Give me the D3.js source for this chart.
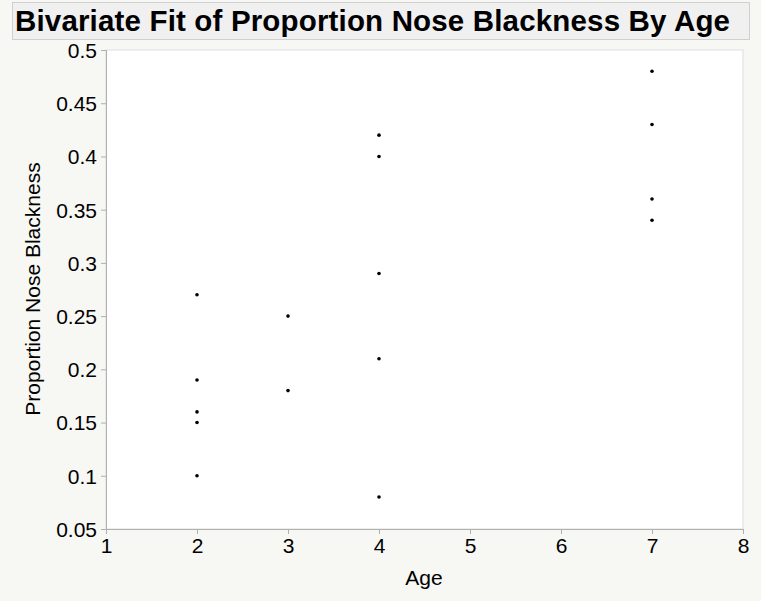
<!DOCTYPE html>
<html><head><meta charset="utf-8">
<script src="https://cdn.jsdelivr.net/npm/d3@7"></script>
<style>body{margin:0;background:#f7f7f3;}</style>
</head><body>
<script>
// values
const ages = [2, 2, 2, 2, 2, 3, 3, 4, 4, 4, 4, 4, 7, 7, 7, 7];
const blackness = [0.27, 0.19, 0.16, 0.15, 0.10, 0.25, 0.18, 0.42, 0.40, 0.29, 0.21, 0.08, 0.48, 0.43, 0.36, 0.34];
const xTicks = [1, 2, 3, 4, 5, 6, 7, 8];
const yTicks = [0.05, 0.1, 0.15, 0.2, 0.25, 0.3, 0.35, 0.4, 0.45, 0.5];

const svg = d3.select("body").append("svg").attr("width", 761).attr("height", 601)
  .style("font-family", "'Liberation Sans', Arial, sans-serif");

svg.append("rect").attr("x", 12.5).attr("y", 2.5).attr("width", 737).attr("height", 37)
  .attr("fill", "#f0f0f0").attr("stroke", "#d0d0d0");
svg.append("text").attr("x", 15).attr("y", 31).attr("font-size", 29.5).attr("font-weight", "bold")
  .attr("textLength", 715).text("Bivariate Fit of Proportion Nose Blackness By Age");

const x = d3.scaleLinear().domain([1, 8]).range([106, 743]);
const y = d3.scaleLinear().domain([0.05, 0.5]).range([529, 50]);

svg.append("rect").attr("x", 106).attr("y", 50).attr("width", 637).attr("height", 479)
  .attr("fill", "#fff").attr("stroke", "#ddd");

const fmt = d => String(+d.toFixed(2));
const xa = svg.append("g").attr("transform", "translate(0,529)")
  .call(d3.axisBottom(x).tickValues(xTicks).tickSize(5).tickPadding(4).tickFormat(d3.format("d")));
const ya = svg.append("g").attr("transform", "translate(106,0)")
  .call(d3.axisLeft(y).tickValues(yTicks).tickSize(5).tickPadding(4).tickFormat(fmt));
[xa, ya].forEach(a => {
  a.selectAll("path,line").attr("stroke", "#b0b0b0");
  a.selectAll("text").attr("font-size", 21).attr("fill", "#000")
    .style("font-family", "'Liberation Sans', Arial, sans-serif");
});
ya.selectAll("text").attr("dy", "0.35em");

svg.selectAll("circle.pt").data(ages).join("circle").attr("class", "pt")
  .attr("cx", d => x(d)).attr("cy", (d, i) => y(blackness[i])).attr("r", 1.8).attr("fill", "#000");

svg.append("text").attr("x", 424).attr("y", 585).attr("text-anchor", "middle").attr("font-size", 21).text("Age");
svg.append("text").attr("transform", "translate(40,289) rotate(-90)").attr("text-anchor", "middle")
  .attr("font-size", 21).text("Proportion Nose Blackness");
</script>
</body></html>
